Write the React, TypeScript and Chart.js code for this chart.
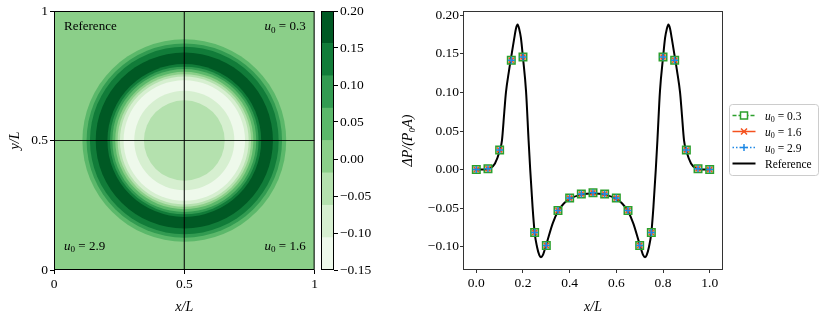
import React, { useEffect, useRef } from "react";
import { Chart, registerables } from "chart.js";
Chart.register(...registerables);

const SERIF = "'Liberation Serif', 'DejaVu Serif', 'Times New Roman', serif";

// ---------- Left panel: contour of ΔP/(P0A) ----------
const contourLevels = [-0.15, -0.10625, -0.0625, -0.01875, 0.025, 0.06875, 0.1125, 0.15625, 0.2];
const bandColors = ["#eef9eb", "#d6efd0", "#b4e1ae", "#8bcf89", "#5bb86a", "#329b51", "#117c39", "#005924"];
const colorbarTicks = [-0.15, -0.1, -0.05, 0, 0.05, 0.1, 0.15, 0.2];
const backgroundBand = 3;
const ringCenter = [0.5, 0.5];
const ringRadii = [0.391, 0.375, 0.362, 0.34, 0.295, 0.285, 0.276, 0.265, 0.256, 0.247, 0.233, 0.192, 0.155];
const ringBands = [4, 5, 6, 7, 6, 5, 4, 3, 2, 1, 0, 1, 2];
const crossAt = [0.5];
const unitTicks = [0, 0.5, 1];
const cornerValues = ["0.3", "2.9", "1.6"];

// ---------- Right panel: ΔP/(P0A) along y/L = 0.5 ----------
const markerX = [0, 0.05, 0.1, 0.15, 0.2, 0.25, 0.3, 0.35, 0.4, 0.45, 0.5, 0.55, 0.6, 0.65, 0.7, 0.75, 0.8, 0.85, 0.9, 0.95, 1.0];
const u03 = [0, 0.001, 0.0255, 0.1417, 0.146, -0.0817, -0.0985, -0.053, -0.037, -0.0316, -0.0302, -0.0316, -0.037, -0.053, -0.0985, -0.0817, 0.146, 0.1417, 0.0255, 0.001, 0];
const u16 = [0, 0.001, 0.0255, 0.1417, 0.146, -0.0817, -0.0985, -0.053, -0.037, -0.0316, -0.0302, -0.0316, -0.037, -0.053, -0.0985, -0.0817, 0.146, 0.1417, 0.0255, 0.001, 0];
const u29 = [0, 0.001, 0.0255, 0.1417, 0.146, -0.0817, -0.0985, -0.053, -0.037, -0.0316, -0.0302, -0.0316, -0.037, -0.053, -0.0985, -0.0817, 0.146, 0.1417, 0.0255, 0.001, 0];
const refX = [0, 0.02, 0.04, 0.06, 0.08, 0.1, 0.11, 0.12, 0.127, 0.14, 0.149, 0.163, 0.17, 0.177, 0.184, 0.191, 0.2, 0.213, 0.224, 0.231, 0.241, 0.25, 0.26, 0.27, 0.277, 0.285, 0.3, 0.327, 0.35, 0.375, 0.4, 0.45, 0.5,
  0.55, 0.6, 0.625, 0.65, 0.673, 0.7, 0.715, 0.723, 0.73, 0.74, 0.75, 0.759, 0.769, 0.776, 0.787, 0.8, 0.809, 0.816, 0.823, 0.83, 0.837, 0.851, 0.86, 0.873, 0.88, 0.89, 0.9, 0.92, 0.94, 0.96, 0.98, 1.0];
const refY = [0, 0, 0.0003, 0.002, 0.008, 0.024, 0.038, 0.075, 0.1, 0.128, 0.145, 0.171, 0.183, 0.188, 0.182, 0.171, 0.145, 0.102, 0.038, 0.0, -0.048, -0.0817, -0.1, -0.111, -0.1136, -0.111, -0.097, -0.07, -0.054, -0.044, -0.038, -0.0325, -0.031,
  -0.0325, -0.038, -0.044, -0.054, -0.07, -0.097, -0.111, -0.1136, -0.111, -0.1, -0.0817, -0.048, 0.0, 0.038, 0.102, 0.145, 0.171, 0.182, 0.188, 0.183, 0.171, 0.145, 0.128, 0.1, 0.075, 0.038, 0.024, 0.008, 0.002, 0.0003, 0, 0];
const xTicksRight = [0, 0.2, 0.4, 0.6, 0.8, 1.0];
const yTicksRight = [-0.1, -0.05, 0, 0.05, 0.1, 0.15, 0.2];
const legendLabels = ["0.3", "1.6", "2.9", "Reference"];

const fmt = (v: number, d: number) => {
  const s = Math.abs(v).toFixed(d);
  return v < -1e-9 ? "\u2212" + s : s;
};

function drawU0(ctx: CanvasRenderingContext2D, val: string, x: number, y: number, size: number, align: "left" | "right") {
  const italic = `italic ${size}px ${SERIF}`;
  const sub = `${size * 0.7}px ${SERIF}`;
  const norm = `${size}px ${SERIF}`;
  ctx.font = italic; const w1 = ctx.measureText("u").width;
  ctx.font = sub; const w2 = ctx.measureText("0").width;
  const rest = " = " + val;
  ctx.font = norm; const w3 = ctx.measureText(rest).width;
  const x0 = align === "right" ? x - (w1 + w2 + w3) : x;
  ctx.textAlign = "left"; ctx.textBaseline = "alphabetic"; ctx.fillStyle = "#000";
  ctx.font = italic; ctx.fillText("u", x0, y);
  ctx.font = sub; ctx.fillText("0", x0 + w1, y + size * 0.22);
  ctx.font = norm; ctx.fillText(rest, x0 + w1 + w2, y);
}

const tickFont = { family: SERIF, size: 13.5 };
const titleFont = { family: SERIF, size: 14, style: "italic" as const };

const contourPlugin = {
  id: "contour",
  beforeDatasetsDraw(chart: any) {
    const { ctx, chartArea: a, scales } = chart;
    const x = scales.x, y = scales.y;
    ctx.save();
    ctx.beginPath(); ctx.rect(a.left, a.top, a.right - a.left, a.bottom - a.top); ctx.clip();
    ctx.fillStyle = bandColors[backgroundBand];
    ctx.fillRect(a.left, a.top, a.right - a.left, a.bottom - a.top);
    const cx = x.getPixelForValue(ringCenter[0]);
    const cy = y.getPixelForValue(ringCenter[1]);
    ringRadii.forEach((r, i) => {
      const rx = x.getPixelForValue(ringCenter[0] + r) - cx;
      const ry = cy - y.getPixelForValue(ringCenter[1] + r);
      ctx.beginPath(); ctx.ellipse(cx, cy, rx, ry, 0, 0, Math.PI * 2);
      ctx.fillStyle = bandColors[ringBands[i]]; ctx.fill();
    });
    ctx.strokeStyle = "rgba(0,0,0,0.85)"; ctx.lineWidth = 1.2;
    crossAt.forEach((v) => {
      const px = x.getPixelForValue(v), py = y.getPixelForValue(v);
      ctx.beginPath(); ctx.moveTo(px, a.top); ctx.lineTo(px, a.bottom); ctx.stroke();
      ctx.beginPath(); ctx.moveTo(a.left, py); ctx.lineTo(a.right, py); ctx.stroke();
    });
    ctx.restore();
  },
  afterDraw(chart: any) {
    const { ctx, chartArea: a } = chart;
    ctx.save();
    ctx.strokeStyle = "#000"; ctx.lineWidth = 1;
    ctx.strokeRect(a.left + 0.5, a.top + 0.5, a.right - a.left - 1, a.bottom - a.top - 1);
    ctx.fillStyle = "#000"; ctx.font = `13px ${SERIF}`; ctx.textAlign = "left"; ctx.textBaseline = "alphabetic";
    ctx.fillText("Reference", a.left + 10, a.top + 19);
    drawU0(ctx, cornerValues[0], a.right - 9, a.top + 19, 13, "right");
    drawU0(ctx, cornerValues[1], a.left + 10, a.bottom - 20.5, 13, "left");
    drawU0(ctx, cornerValues[2], a.right - 9, a.bottom - 20.5, 13, "right");
    ctx.restore();
  },
};

const cbPlugin = {
  id: "cbframe",
  afterDraw(chart: any) {
    const { ctx, chartArea: a } = chart;
    ctx.save(); ctx.strokeStyle = "#000"; ctx.lineWidth = 1;
    ctx.strokeRect(a.left + 0.5, a.top + 0.5, a.right - a.left - 1, a.bottom - a.top - 1);
    ctx.restore();
  },
};

const rightPlugin = {
  id: "rightdeco",
  afterDraw(chart: any) {
    const { ctx, chartArea: a } = chart;
    ctx.save();
    ctx.strokeStyle = "#333"; ctx.lineWidth = 1;
    ctx.strokeRect(a.left + 0.5, a.top + 0.5, a.right - a.left - 1, a.bottom - a.top - 1);
    // legend
    const bx = a.right + 6.5, by = 104.5, bw = 89, bh = 71, rr = 3;
    ctx.beginPath();
    ctx.moveTo(bx + rr, by); ctx.lineTo(bx + bw - rr, by); ctx.arcTo(bx + bw, by, bx + bw, by + rr, rr);
    ctx.lineTo(bx + bw, by + bh - rr); ctx.arcTo(bx + bw, by + bh, bx + bw - rr, by + bh, rr);
    ctx.lineTo(bx + rr, by + bh); ctx.arcTo(bx, by + bh, bx, by + bh - rr, rr);
    ctx.lineTo(bx, by + rr); ctx.arcTo(bx, by, bx + rr, by, rr); ctx.closePath();
    ctx.fillStyle = "rgba(255,255,255,0.8)"; ctx.fill();
    ctx.strokeStyle = "#cccccc"; ctx.stroke();
    const order = [1, 2, 3, 0];
    const x0 = a.right + 9.5, x1 = a.right + 32.5, xm = (x0 + x1) / 2;
    order.forEach((di, row) => {
      const ds = chart.data.datasets[di];
      const yy = 115.5 + row * 16;
      ctx.save();
      ctx.strokeStyle = ds.borderColor; ctx.lineWidth = ds.legendWidth;
      ctx.setLineDash(ds.legendDash || []);
      ctx.beginPath(); ctx.moveTo(x0, yy); ctx.lineTo(x1, yy); ctx.stroke();
      ctx.setLineDash([]);
      ctx.lineWidth = 1.5;
      if (ds.pointStyle === "rect") {
        ctx.fillStyle = "#fff"; ctx.fillRect(xm - 3.5, yy - 3.5, 7, 7);
        ctx.strokeRect(xm - 3.5, yy - 3.5, 7, 7);
      } else if (ds.pointStyle === "crossRot") {
        ctx.beginPath(); ctx.moveTo(xm - 3, yy - 3); ctx.lineTo(xm + 3, yy + 3); ctx.moveTo(xm - 3, yy + 3); ctx.lineTo(xm + 3, yy - 3); ctx.stroke();
      } else if (ds.pointStyle === "cross") {
        ctx.beginPath(); ctx.moveTo(xm - 3.5, yy); ctx.lineTo(xm + 3.5, yy); ctx.moveTo(xm, yy - 3.5); ctx.lineTo(xm, yy + 3.5); ctx.stroke();
      }
      ctx.restore();
      const label = legendLabels[row];
      if (row < 3) drawU0(ctx, label, a.right + 42, yy + 4, 11.5, "left");
      else {
        ctx.fillStyle = "#000"; ctx.font = `11.5px ${SERIF}`; ctx.textAlign = "left"; ctx.textBaseline = "alphabetic";
        ctx.fillText(label, a.right + 42, yy + 4);
      }
    });
    ctx.restore();
  },
};

export default function App() {
  const leftRef = useRef<HTMLCanvasElement>(null);
  const cbRef = useRef<HTMLCanvasElement>(null);
  const rightRef = useRef<HTMLCanvasElement>(null);

  useEffect(() => {
    const tickGrid = (color: string, len: number) => ({ drawOnChartArea: false, drawTicks: true, tickLength: len, color, tickColor: color });

    const left = new Chart(leftRef.current!, {
      type: "scatter",
      data: { datasets: [] },
      options: {
        animation: false, responsive: false, maintainAspectRatio: false,
        layout: { padding: { top: 11, right: 5, left: 0, bottom: 0 } },
        plugins: { legend: { display: false }, tooltip: { enabled: false } },
        scales: {
          x: {
            type: "linear", min: 0, max: 1,
            afterBuildTicks: (s: any) => { s.ticks = unitTicks.map((v) => ({ value: v })); },
            afterFit: (s: any) => { s.height = 52; },
            ticks: { callback: (v: any) => String(v), font: tickFont, color: "#000", padding: 2, maxRotation: 0, autoSkip: false },
            grid: tickGrid("#000", 4), border: { display: false },
            title: { display: true, text: "x/L", font: titleFont, color: "#000", padding: { top: 0, bottom: 6 } },
          },
          y: {
            type: "linear", min: 0, max: 1,
            afterBuildTicks: (s: any) => { s.ticks = unitTicks.map((v) => ({ value: v })); },
            afterFit: (s: any) => { s.width = 54; },
            ticks: { callback: (v: any) => String(v), font: tickFont, color: "#000", padding: 2, autoSkip: false },
            grid: tickGrid("#000", 4), border: { display: false },
            title: { display: true, text: "y/L", font: titleFont, color: "#000", padding: { top: 7, bottom: 0 } },
          },
        },
      },
      plugins: [contourPlugin],
    } as any);

    const cb = new Chart(cbRef.current!, {
      type: "bar",
      data: {
        labels: [""],
        datasets: bandColors.map((c, i) => ({
          data: [[contourLevels[i], contourLevels[i + 1]]],
          backgroundColor: c, borderWidth: 0, grouped: false, barPercentage: 1, categoryPercentage: 1,
        })),
      },
      options: {
        animation: false, responsive: false, maintainAspectRatio: false,
        layout: { padding: { top: 11, right: 0, left: 0, bottom: 52 } },
        plugins: { legend: { display: false }, tooltip: { enabled: false } },
        scales: {
          x: { display: false },
          y: {
            position: "right", type: "linear", min: -0.15, max: 0.2,
            afterBuildTicks: (s: any) => { s.ticks = colorbarTicks.map((v) => ({ value: v })); },
            afterFit: (s: any) => { s.width = 47; },
            ticks: { callback: (v: any) => fmt(Number(v), 2), font: tickFont, color: "#000", padding: 2, autoSkip: false },
            grid: tickGrid("#000", 4), border: { display: false },
          },
        },
      },
      plugins: [cbPlugin],
    } as any);

    const pts = (ys: number[]) => markerX.map((x, i) => ({ x, y: ys[i] }));
    const right = new Chart(rightRef.current!, {
      type: "scatter",
      data: {
        datasets: [
          { label: "Reference", data: refX.map((x, i) => ({ x, y: refY[i] })), showLine: true, borderColor: "#000", borderWidth: 2, pointRadius: 0, cubicInterpolationMode: "monotone", order: 10, legendWidth: 2 },
          { label: "u0 = 0.3", data: pts(u03), showLine: false, borderColor: "#2ca02c", backgroundColor: "rgba(44,160,44,0.25)", pointStyle: "rect", pointRadius: 5.3, pointBorderWidth: 1.5, order: 3, legendDash: [4, 2], legendWidth: 1.5 },
          { label: "u0 = 1.6", data: pts(u16), showLine: false, borderColor: "#f4511e", backgroundColor: "#f4511e", pointStyle: "crossRot", pointRadius: 3.5, pointBorderWidth: 1.5, order: 2, legendWidth: 1.5 },
          { label: "u0 = 2.9", data: pts(u29), showLine: false, borderColor: "#1e88e5", backgroundColor: "#1e88e5", pointStyle: "cross", pointRadius: 3.5, pointBorderWidth: 1.5, order: 1, legendDash: [1.5, 2], legendWidth: 1.5 },
        ],
      },
      options: {
        animation: false, responsive: false, maintainAspectRatio: false,
        layout: { padding: { top: 11, right: 99, left: 0, bottom: 0 } },
        plugins: { legend: { display: false }, tooltip: { enabled: false } },
        scales: {
          x: {
            type: "linear", min: -0.057, max: 1.057,
            afterBuildTicks: (s: any) => { s.ticks = xTicksRight.map((v) => ({ value: v })); },
            afterFit: (s: any) => { s.height = 52; },
            ticks: { callback: (v: any) => fmt(Number(v), 1), font: tickFont, color: "#000", padding: 2, maxRotation: 0, autoSkip: false },
            grid: tickGrid("#333", 3), border: { display: false },
            title: { display: true, text: "x/L", font: titleFont, color: "#000", padding: { top: 0, bottom: 6 } },
          },
          y: {
            type: "linear", min: -0.1302, max: 0.2056,
            afterBuildTicks: (s: any) => { s.ticks = yTicksRight.map((v) => ({ value: v })); },
            afterFit: (s: any) => { s.width = 63; },
            ticks: { callback: (v: any) => fmt(Number(v), 2), font: tickFont, color: "#000", padding: 1, autoSkip: false },
            grid: tickGrid("#333", 3), border: { display: false },
            title: { display: true, text: "\u0394P/(P\u2080A)", font: titleFont, color: "#000", padding: { top: 0, bottom: 0 } },
          },
        },
      },
      plugins: [rightPlugin],
    } as any);

    return () => { left.destroy(); cb.destroy(); right.destroy(); };
  }, []);

  return (
    <div style={{ position: "fixed", left: 0, top: 0, width: 822, height: 322, background: "#fff", overflow: "hidden" }}>
      <canvas ref={leftRef} width={320} height={322} style={{ position: "absolute", left: 0, top: 0, width: 320, height: 322 }} />
      <canvas ref={cbRef} width={60} height={322} style={{ position: "absolute", left: 321, top: 0, width: 60, height: 322 }} />
      <canvas ref={rightRef} width={422} height={322} style={{ position: "absolute", left: 400, top: 0, width: 422, height: 322 }} />
    </div>
  );
}
